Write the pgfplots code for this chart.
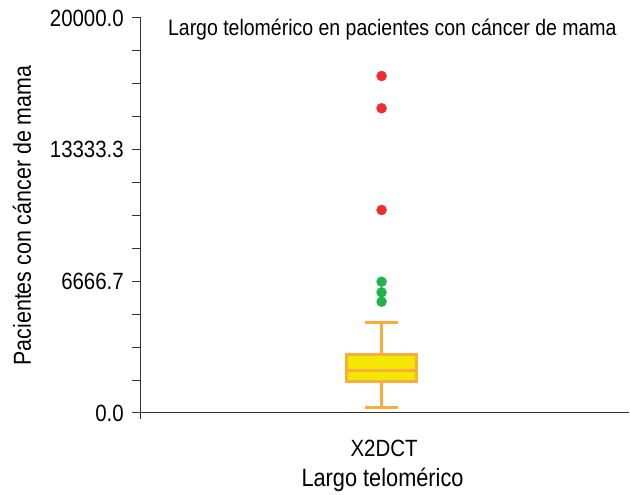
\documentclass[border=0pt]{standalone}
\usepackage{fontspec}
\setmainfont{Liberation Sans}[FakeStretch=0.87]
\usepackage{pgfplots}
\pgfplotsset{compat=1.18}
\definecolor{boxfill}{HTML}{F3E600}
\definecolor{boxline}{HTML}{F9AD3A}
\definecolor{outred}{HTML}{EE2C2C}
\definecolor{outgreen}{HTML}{21B24B}
\begin{document}
\begin{tikzpicture}
\begin{axis}[
  at={(0,0)}, anchor=south west,
  scale only axis, width=488pt, height=395pt,
  xmin=0, xmax=10, ymin=0, ymax=20000,
  axis x line=bottom, axis y line=left,
  axis line style={-, line width=1pt, black!80},
  y axis line style={shorten <=-6pt},
  xtick=\empty,
  ytick={0,6666.7,13333.3,20000},
  yticklabels={0.0,6666.7,13333.3,20000.0},
  scaled y ticks=false,
  minor ytick={0,1666.67,3333.33,5000,6666.67,8333.33,10000,11666.67,13333.33,15000,16666.67,18333.33,20000},
  ytick align=outside,
  major tick length=9pt, minor tick length=9pt,
  every tick/.style={draw=black!80, line width=1pt},
  yticklabel style={font=\fontsize{23.5}{28}\selectfont, inner sep=2pt, xshift=-6pt},
  /pgf/number format/assume math mode=true,
  every axis y label/.style={at={(axis description cs:-0.244,0.5)}, anchor=center, rotate=90, font=\fontsize{24.6}{29}\selectfont},
  every axis x label/.style={at={(axis description cs:0.495,-0.187)}, anchor=base, font=\fontsize{25}{30}\selectfont},
  ylabel={Pacientes con cáncer de mama},
  xlabel={Largo telomérico},
  clip=false,
]
% whiskers
\addplot[boxline, line width=2.5pt] coordinates {(4.93,289) (4.93,1585)};
\addplot[boxline, line width=2.5pt] coordinates {(4.93,2972) (4.93,4572)};
\addplot[boxline, line width=2.5pt] coordinates {(4.60,289) (5.26,289)};
\addplot[boxline, line width=2.5pt] coordinates {(4.60,4572) (5.26,4572)};
% box
\addplot[fill=boxfill, draw=boxline, line width=2.5pt] coordinates {(4.215,1585) (5.645,1585) (5.645,2972) (4.215,2972)} -- cycle;
% median
\addplot[boxline, line width=2.5pt] coordinates {(4.215,2142) (5.645,2142)};
% outliers
\addplot[only marks, mark=*, mark size=5pt, mark options={draw=outred, fill=outred}] coordinates {(4.93,17063) (4.93,15428) (4.93,10278)};
\addplot[only marks, mark=*, mark size=5pt, mark options={draw=outgreen, fill=outgreen}] coordinates {(4.93,6648) (4.93,6111) (4.93,5635)};
\node[anchor=base, font=\fontsize{23.5}{28}\selectfont] at (axis description cs:0.498,-0.111) {X2DCT};
\node[anchor=base, font=\fontsize{22.4}{27}\selectfont] at (axis description cs:0.515,0.955) {Largo telomérico en pacientes con cáncer de mama};
\end{axis}
\pgfresetboundingbox
\path[use as bounding box] (-141pt,-82pt) rectangle (489pt,413pt);
\end{tikzpicture}
\end{document}
